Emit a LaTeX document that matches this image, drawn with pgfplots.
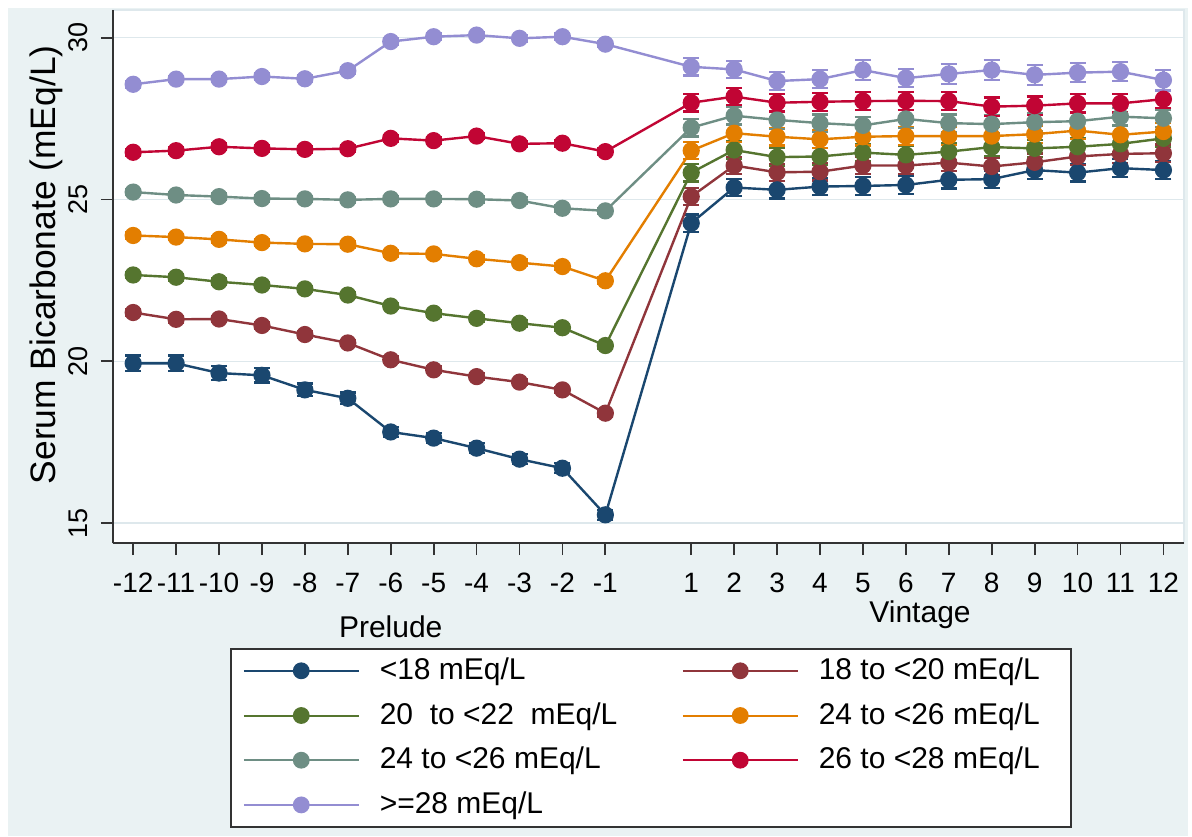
\documentclass[border=0pt]{standalone}
\usepackage{fontspec}
\setmainfont{Liberation Sans}
\usepackage{pgfplots}
\usepackage{pgfplotstable}
\pgfplotsset{compat=1.18}
\definecolor{bgc}{RGB}{234,242,243}
\definecolor{gridc}{RGB}{222,232,236}
\definecolor{snavy}{RGB}{26,71,111}
\definecolor{smaroon}{RGB}{144,53,59}
\definecolor{sgreen}{RGB}{85,117,47}
\definecolor{sorange}{RGB}{227,126,0}
\definecolor{steal}{RGB}{110,142,132}
\definecolor{scran}{RGB}{193,5,52}
\definecolor{slav}{RGB}{147,141,210}

\pgfplotstableread{
x y e
-12 19.94 0.24
-11 19.94 0.24
-10 19.64 0.22
-9 19.57 0.22
-8 19.12 0.2
-7 18.86 0.18
-6 17.82 0.15
-5 17.63 0.15
-4 17.32 0.15
-3 16.98 0.15
-2 16.70 0.15
-1 15.26 0.15
1 24.27 0.27
2 25.37 0.27
3 25.30 0.27
4 25.40 0.27
5 25.42 0.27
6 25.45 0.27
7 25.61 0.27
8 25.63 0.27
9 25.91 0.27
10 25.83 0.27
11 25.97 0.27
12 25.91 0.27
}\tnavy
\pgfplotstableread{
x y e
-12 21.51 0.1
-11 21.30 0.1
-10 21.31 0.1
-9 21.11 0.1
-8 20.83 0.1
-7 20.57 0.1
-6 20.05 0.1
-5 19.74 0.1
-4 19.53 0.1
-3 19.36 0.1
-2 19.12 0.1
-1 18.40 0.1
1 25.09 0.27
2 26.05 0.27
3 25.84 0.27
4 25.86 0.27
5 26.05 0.27
6 26.05 0.27
7 26.14 0.27
8 26.02 0.27
9 26.15 0.27
10 26.33 0.27
11 26.41 0.27
12 26.43 0.27
}\tmaroon
\pgfplotstableread{
x y e
-12 22.67 0.1
-11 22.60 0.1
-10 22.46 0.1
-9 22.36 0.1
-8 22.24 0.1
-7 22.05 0.1
-6 21.71 0.1
-5 21.49 0.1
-4 21.33 0.1
-3 21.18 0.1
-2 21.04 0.1
-1 20.49 0.1
1 25.83 0.27
2 26.53 0.27
3 26.31 0.27
4 26.33 0.27
5 26.45 0.27
6 26.38 0.27
7 26.48 0.27
8 26.62 0.27
9 26.58 0.27
10 26.63 0.27
11 26.72 0.27
12 26.89 0.27
}\tgreen
\pgfplotstableread{
x y e
-12 23.89 0.1
-11 23.84 0.1
-10 23.77 0.1
-9 23.67 0.1
-8 23.63 0.1
-7 23.62 0.1
-6 23.34 0.1
-5 23.32 0.1
-4 23.17 0.1
-3 23.05 0.1
-2 22.93 0.1
-1 22.49 0.1
1 26.51 0.27
2 27.05 0.27
3 26.94 0.27
4 26.86 0.27
5 26.94 0.27
6 26.96 0.27
7 26.96 0.27
8 26.96 0.27
9 27.02 0.27
10 27.13 0.27
11 27.00 0.27
12 27.10 0.27
}\torange
\pgfplotstableread{
x y e
-12 25.23 0.1
-11 25.14 0.1
-10 25.09 0.1
-9 25.03 0.1
-8 25.02 0.1
-7 24.99 0.1
-6 25.02 0.1
-5 25.02 0.1
-4 25.01 0.1
-3 24.97 0.1
-2 24.73 0.1
-1 24.65 0.1
1 27.22 0.27
2 27.59 0.27
3 27.46 0.27
4 27.36 0.27
5 27.29 0.27
6 27.49 0.27
7 27.36 0.27
8 27.33 0.27
9 27.39 0.27
10 27.42 0.27
11 27.56 0.27
12 27.51 0.27
}\tteal
\pgfplotstableread{
x y e
-12 26.46 0.1
-11 26.51 0.1
-10 26.63 0.1
-9 26.58 0.1
-8 26.55 0.1
-7 26.57 0.1
-6 26.89 0.1
-5 26.82 0.1
-4 26.96 0.1
-3 26.72 0.1
-2 26.74 0.1
-1 26.48 0.1
1 27.99 0.27
2 28.18 0.27
3 27.99 0.27
4 28.02 0.28
5 28.04 0.28
6 28.05 0.28
7 28.04 0.28
8 27.87 0.28
9 27.90 0.28
10 27.97 0.28
11 27.97 0.28
12 28.10 0.28
}\tcran
\pgfplotstableread{
x y e
-12 28.56 0.1
-11 28.72 0.1
-10 28.72 0.1
-9 28.80 0.1
-8 28.73 0.1
-7 28.98 0.1
-6 29.88 0.1
-5 30.03 0.1
-4 30.08 0.1
-3 29.98 0.1
-2 30.03 0.1
-1 29.80 0.1
1 29.10 0.27
2 29.02 0.27
3 28.66 0.27
4 28.72 0.28
5 29.00 0.3
6 28.75 0.28
7 28.88 0.3
8 29.00 0.3
9 28.85 0.3
10 28.92 0.3
11 28.95 0.3
12 28.69 0.32
}\tlav

\pgfplotsset{
  ser/.style={color=#1, line width=1.2pt, mark=*, mark size=3.7pt,
    mark options={solid, fill=#1, draw=#1},
    error bars/.cd, y dir=both, y explicit,
    error bar style={line width=1.1pt},
    error mark options={rotate=90, mark size=4pt, line width=1.1pt}},
}

\begin{document}
\begin{tikzpicture}
\path[use as bounding box, fill=white] (0,0) rectangle (596pt,418pt);
\fill[bgc] (4pt,0pt) rectangle (594pt,414pt);
\begin{axis}[
  at={(56.5pt,146.5pt)}, anchor=south west,
  scale only axis, width=535.5pt, height=266.5pt,
  xmin=-12.47, xmax=12.48, ymin=14.39, ymax=30.855,
  axis x line*=bottom, axis y line*=left,
  axis line style={line width=1pt, color=black!80},
  axis background/.style={fill=white, draw=gridc, line width=0.8pt},
  xtick={-12,-11,-10,-9,-8,-7,-6,-5,-4,-3,-2,-1,1,2,3,4,5,6,7,8,9,10,11,12},
  xticklabels={-12,-11,-10,-9,-8,-7,-6,-5,-4,-3,-2,-1,1,2,3,4,5,6,7,8,9,10,11,12},
  ytick={15,20,25,30},
  yticklabels={15,20,25,30},
  ymajorgrids, grid style={gridc, line width=0.8pt},
  tick align=outside, major tick length=6pt,
  tick style={line width=0.9pt, color=black!80},
  xticklabel style={font=\fontsize{14}{16}\selectfont, inner sep=2pt},
  yticklabel style={font=\fontsize{13.5}{16}\selectfont, inner sep=2pt, rotate=90, anchor=south},
  xticklabel shift=7pt,
  yticklabel shift=4.25pt,
  ylabel={Serum Bicarbonate (mEq/L)},
  every axis y label/.style={at={(axis description cs:-0.0626,0.522)}, rotate=90, anchor=center, font=\fontsize{17.7}{20}\selectfont},
  clip=false,
  legend columns=2,
  legend cell align=left,
  legend image code/.code={\draw[mark repeat=2, mark phase=2, #1, line width=1pt, mark size=3.7pt] plot coordinates {(0pt,0pt) (28.75pt,0pt) (57.5pt,0pt)};},
  legend style={at={(axis description cs:0.1092,-0.197)}, anchor=north west,
    draw=black!80, line width=0.8pt, fill=white,
    font=\fontsize{15}{17}\selectfont,
    inner xsep=6pt, inner ysep=2.75pt, row sep=5.85pt,
    nodes={inner xsep=0pt, inner ysep=2pt, text height=10.5pt, text depth=2pt},
    /tikz/every odd column/.append style={column sep=10pt},
    /tikz/every even column/.append style={column sep=10pt}},
]
\addplot[ser=snavy] table[x=x, y=y, y error=e] {\tnavy};
\addlegendentry{\makebox[141pt][l]{<18 mEq/L}}
\addplot[ser=smaroon] table[x=x, y=y, y error=e] {\tmaroon};
\addlegendentry{\makebox[120pt][l]{18 to <20 mEq/L}}
\addplot[ser=sgreen] table[x=x, y=y, y error=e] {\tgreen};
\addlegendentry{\makebox[141pt][l]{20\ \ to <22\ \ mEq/L}}
\addplot[ser=sorange] table[x=x, y=y, y error=e] {\torange};
\addlegendentry{\makebox[120pt][l]{24 to <26 mEq/L}}
\addplot[ser=steal] table[x=x, y=y, y error=e] {\tteal};
\addlegendentry{\makebox[141pt][l]{24 to <26 mEq/L}}
\addplot[ser=scran] table[x=x, y=y, y error=e] {\tcran};
\addlegendentry{\makebox[120pt][l]{26 to <28 mEq/L}}
\addplot[ser=slav] table[x=x, y=y, y error=e] {\tlav};
\addlegendentry{\makebox[141pt][l]{>=28 mEq/L}}
\node[anchor=base, font=\fontsize{15}{17}\selectfont] at (axis cs:-6.0,11.46) {Prelude};
\node[anchor=base, font=\fontsize{15}{17}\selectfont] at (axis cs:6.33,11.92) {Vintage};
\end{axis}
\end{tikzpicture}
\end{document}
